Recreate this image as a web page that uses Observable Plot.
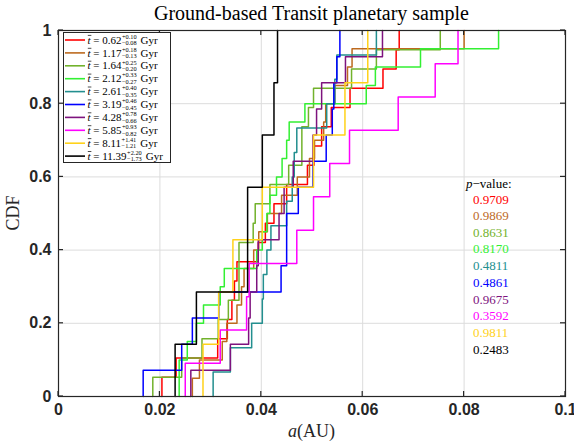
<!DOCTYPE html>
<html><head><meta charset="utf-8">
<script src="https://cdn.jsdelivr.net/npm/d3@7"></script>
<script src="https://cdn.jsdelivr.net/npm/@observablehq/plot@0.6"></script>
<style>body{margin:0;background:#fff} svg{display:block}</style>
</head><body><div id="chart"></div>
<script>
// ---- data ----
const ageMedian = ["0.62","1.17","1.64","2.12","2.61","3.19","4.28","5.85","8.11","11.39"];
const ageUpper  = ["0.10","0.18","0.25","0.33","0.40","0.46","0.78","0.93","1.41","2.20"];
const ageLower  = ["0.08","0.13","0.20","0.27","0.35","0.45","0.66","0.82","1.21","1.73"];
const pValues   = ["0.9709","0.9869","0.8631","0.8170","0.4811","0.4861","0.9675","0.3592","0.9811","0.2483"];
const colors    = ["#ff0000","#bd6a1f","#72b22c","#33f033","#238f8f","#0000ff","#7e137e","#ff00ff","#ffd21a","#000000"];

const xTicks = [0, 0.02, 0.04, 0.06, 0.08, 0.1];
const xTickLabels = ["0","0.02","0.04","0.06","0.08","0.1"];
const yTicks = [0, 0.2, 0.4, 0.6, 0.8, 1];
const yTickLabels = ["0","0.2","0.4","0.6","0.8","1"];

// semi-major axes (AU) of each age bin
const a_062  = [0.0204,0.0232,0.0314,0.0333,0.0342,0.0347,0.0352,0.0394,0.0408,0.0425,0.0450,0.0491,0.0504,0.0519,0.0538,0.0575,0.0640,0.0666,0.0672];
const a_117  = [0.0264,0.0278,0.0323,0.0332,0.0352,0.0361,0.0366,0.0385,0.0395,0.0412,0.0440,0.0471,0.0495,0.0505,0.0523,0.0527,0.0545,0.0570,0.0579,0.0800];
const a_164  = [0.0186,0.0243,0.0283,0.0315,0.0335,0.0356,0.0356,0.0356,0.0384,0.0388,0.0417,0.0454,0.0480,0.0480,0.0493,0.0503,0.0578,0.0627,0.0753];
const a_212  = [0.0238,0.0238,0.0254,0.0272,0.0286,0.0319,0.0327,0.0391,0.0402,0.0411,0.0417,0.0430,0.0441,0.0450,0.0455,0.0486,0.0607,0.0625,0.0714,0.0868];
const a_261  = [0.0305,0.0339,0.0381,0.0402,0.0404,0.0411,0.0419,0.0450,0.0461,0.0465,0.0470,0.0529,0.0545,0.0549,0.0627];
const a_319  = [0.0167,0.0243,0.0264,0.0316,0.0439,0.0450,0.0450,0.0473,0.0502,0.0528,0.0540,0.0543,0.0549,0.0555];
const a_428  = [0.0261,0.0339,0.0375,0.0378,0.0391,0.0394,0.0435,0.0445,0.0463,0.0502,0.0509,0.0519,0.0566,0.0639];
const a_585  = [0.0250,0.0319,0.0371,0.0376,0.0470,0.0503,0.0535,0.0574,0.0670,0.0743,0.0788];
const a_811  = [0.0285,0.0316,0.0344,0.0402,0.0503,0.0565,0.0610];
const a_1139 = [0.0230,0.0272,0.0373,0.0373,0.0402,0.0425,0.0432];

const samples = [a_062,a_117,a_164,a_212,a_261,a_319,a_428,a_585,a_811,a_1139];

// empirical CDF points
const cdf = samples.flatMap((vals, i) => {
  const s = [...vals].sort(d3.ascending), n = s.length;
  return [{series: i, x: s[0], y: 0}, ...s.map((v, k) => ({series: i, x: v, y: (k + 1) / n}))];
});

const serif = "'Liberation Serif', 'DejaVu Serif', serif";
const sans = "'Liberation Sans', Arial, sans-serif";

const chart = Plot.plot({
  width: 574, height: 445,
  marginLeft: 58, marginRight: 9, marginTop: 30, marginBottom: 49,
  x: {domain: [0, 0.1]},
  y: {domain: [0, 1]},
  color: {type: "identity"},
  style: {background: "#fff"},
  marks: [
    Plot.gridX(xTicks, {stroke: "#dcdcdc", strokeOpacity: 1}),
    Plot.gridY(yTicks, {stroke: "#dcdcdc", strokeOpacity: 1}),
    Plot.line(cdf, {x: "x", y: "y", z: "series", stroke: d => colors[d.series], curve: "step-after", strokeWidth: 1.5}),
    Plot.axisX(xTicks, {tickSize: 0, tickPadding: 7, tickFormat: (d, i) => xTickLabels[i], fontSize: 16, fontWeight: "bold", fontFamily: sans, fill: "#262626", label: null}),
    Plot.axisY(yTicks, {tickSize: 0, tickPadding: 7, tickFormat: (d, i) => yTickLabels[i], fontSize: 16, fontWeight: "bold", fontFamily: sans, fill: "#262626", label: null}),
    Plot.frame({stroke: "#262626", strokeWidth: 1.2})
  ]
});
document.getElementById("chart").appendChild(chart);

const svg = d3.select(chart);
const sx = chart.scale("x"), sy = chart.scale("y");
const X0 = sx.apply(0), X1 = sx.apply(0.1), Y0 = sy.apply(0), Y1 = sy.apply(1);

// inward ticks on all four sides
const tk = svg.append("g").attr("stroke", "#262626").attr("stroke-width", 1.2);
xTicks.forEach(v => {
  const px = sx.apply(v);
  tk.append("line").attr("x1", px).attr("x2", px).attr("y1", Y0).attr("y2", Y0 - 5);
  tk.append("line").attr("x1", px).attr("x2", px).attr("y1", Y1).attr("y2", Y1 + 5);
});
yTicks.forEach(v => {
  const py = sy.apply(v);
  tk.append("line").attr("y1", py).attr("y2", py).attr("x1", X0).attr("x2", X0 + 5);
  tk.append("line").attr("y1", py).attr("y2", py).attr("x1", X1).attr("x2", X1 - 5);
});

// title
svg.append("text").attr("x", (X0 + X1) / 2).attr("y", 20).attr("text-anchor", "middle")
  .attr("font-family", serif).attr("font-size", 20).attr("fill", "#000")
  .text("Ground-based Transit planetary sample");

// x label
const xl = svg.append("text").attr("x", (X0 + X1) / 2).attr("y", 437).attr("text-anchor", "middle")
  .attr("font-family", serif).attr("font-size", 18).attr("fill", "#262626");
xl.append("tspan").attr("font-style", "italic").text("a");
xl.append("tspan").text("(AU)");

// y label
svg.append("text").attr("transform", `translate(19,${(Y0 + Y1) / 2}) rotate(-90)`).attr("text-anchor", "middle")
  .attr("font-family", serif).attr("font-size", 18).attr("fill", "#262626").text("CDF");

// legend
const lg = svg.append("g").attr("text-anchor", "start");
const LX = 63.5, LY = 32.5, LW = 107, LH = 130, rowH = 12.9;
lg.append("rect").attr("x", LX).attr("y", LY).attr("width", LW).attr("height", LH)
  .attr("fill", "#fff").attr("stroke", "#262626").attr("stroke-width", 1);
ageMedian.forEach((m, i) => {
  const cy = 40 + i * rowH;
  lg.append("line").attr("x1", 65).attr("x2", 85).attr("y1", cy).attr("y2", cy)
    .attr("stroke", colors[i]).attr("stroke-width", 1.6);
  const tx = 87.5;
  const t = lg.append("text").attr("x", tx).attr("y", cy + 3.6).attr("font-family", serif)
    .attr("font-size", 11).attr("font-style", "italic").attr("fill", "#000").text("t");
  const wt = t.node().getComputedTextLength();
  lg.append("line").attr("x1", tx + 0.3).attr("x2", tx + wt + 0.8).attr("y1", cy - 4.6).attr("y2", cy - 4.6)
    .attr("stroke", "#000").attr("stroke-width", 0.7);
  const rest = lg.append("text").attr("x", tx + wt).attr("y", cy + 3.6).attr("font-family", serif)
    .attr("font-size", 11).attr("fill", "#000").text("\u00a0=\u00a0" + m);
  const wr = rest.node().getComputedTextLength();
  const sxp = tx + wt + wr + 0.5;
  const sup = lg.append("text").attr("x", sxp).attr("y", cy - 1.3).attr("font-family", serif).attr("font-size", 6.3).text("+" + ageUpper[i]);
  const sub = lg.append("text").attr("x", sxp).attr("y", cy + 5.2).attr("font-family", serif).attr("font-size", 6.3).text("\u2212" + ageLower[i]);
  const ww = Math.max(sup.node().getComputedTextLength(), sub.node().getComputedTextLength());
  lg.append("text").attr("x", sxp + ww + 4).attr("y", cy + 3.6).attr("font-family", serif).attr("font-size", 11).text("Gyr");
});

// p-values
const pv = svg.append("g").attr("font-family", serif).attr("font-size", 13).attr("text-anchor", "start");
const pt = pv.append("text").attr("x", 466).attr("y", 187.5).attr("fill", "#000");
pt.append("tspan").attr("font-style", "italic").text("p");
pt.append("tspan").text("\u2212value:");
pValues.forEach((p, i) => {
  const yy = i === 0 ? 203.5 : 220 + (i - 1) * 16.7;
  pv.append("text").attr("x", 473).attr("y", yy).attr("fill", colors[i]).text(p);
});
</script></body></html>
